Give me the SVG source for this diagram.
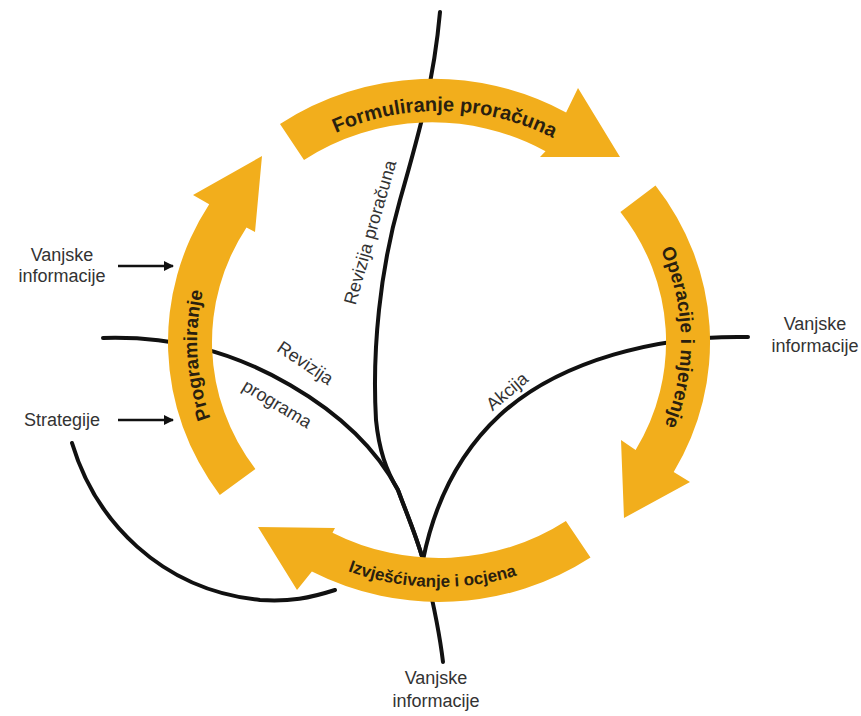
<svg xmlns="http://www.w3.org/2000/svg" width="861" height="716" viewBox="0 0 861 716">
<style>
.ln{fill:none;stroke:#111;stroke-width:4;stroke-linecap:round}
.band{fill:#F2AE1C}
.bl{font-family:"Liberation Sans",Arial,sans-serif;font-weight:bold;fill:#2a1f0f}
.lb{font-family:"Liberation Sans",Arial,sans-serif;font-size:18px;fill:#333}
.ar{stroke:#111;stroke-width:2.5;fill:none}
</style>
<defs>
<marker id="ah" viewBox="0 0 10 10" refX="9" refY="5" markerWidth="4" markerHeight="4" orient="auto" markerUnits="strokeWidth">
<path d="M0,0 L10,5 L0,10 Z" fill="#111"/>
</marker>
<path id="tpTop" d="M 229.4 226.5 A 242 231 0 0 1 648.6 226.5"/>
<path id="tpRight" d="M 560 142 A 242 231 0 0 1 560 542"/>
<path id="tpBottom" d="M 217.3 464.5 A 256 245 0 0 0 660.7 464.5"/>
<path id="tpLeft" d="M 318 542 A 242 231 0 0 1 318 142"/>
</defs>

<g id="connectors">
<path class="ln" d="M 440 12 C 434 80, 420 130, 400 200 C 380 270, 372 350, 376 420 C 379 450, 386 470, 398 490 C 406 512, 416 535, 423 560"/>
<path class="ln" d="M 103 338 C 170 336, 230 350, 290 385 C 340 414, 376 448, 398 490 C 406 512, 416 535, 423 560"/>
<path class="ln" d="M 748 337 C 660 335, 560 360, 500 415 C 460 452, 435 500, 423 560"/>
<path class="ln" d="M 423 560 C 430 590, 438 620, 443 662"/>
<path class="ln" d="M 72 443 C 95 520, 160 590, 260 600 C 290 602, 310 598, 335 590"/>
<line class="ar" x1="118" y1="266" x2="173" y2="266" marker-end="url(#ah)"/>
<line class="ar" x1="118" y1="420" x2="173" y2="420" marker-end="url(#ah)"/>
</g>

<g id="formuliranje">
<path class="band" d="M 280 124 A 271 260 0 0 1 566.1 112.4 L 578 88 L 620 157 L 540 157 L 545.5 151.3 A 227 216 0 0 0 304 160 Z"/>
<text class="bl" font-size="20"><textPath href="#tpTop" startOffset="51.2%" text-anchor="middle">Formuliranje proračuna</textPath></text>
</g>

<g id="operacije">
<path class="band" d="M 655.5 185.5 A 271 260 0 0 1 673.7 472 L 690 482 L 624 518 L 621 440 L 635.6 450 A 227 216 0 0 0 620.4 212 Z"/>
<text class="bl" font-size="19"><textPath href="#tpRight" startOffset="49%" text-anchor="middle">Operacije i mjerenje</textPath></text>
</g>

<g id="izvjescivanje">
<path class="band" d="M 590.5 557.5 A 271 260 0 0 1 311.9 571.6 L 297 590 L 258 527 L 335 528 L 332.5 532.7 A 227 216 0 0 0 565.9 521 Z"/>
<text class="bl" font-size="17"><textPath href="#tpBottom" startOffset="48.7%" text-anchor="middle">Izvješćivanje i ocjena</textPath></text>
</g>

<g id="programiranje">
<path class="band" d="M 219.8 494.9 A 271 260 0 0 1 209.2 204.2 L 193 195 L 262 156 L 255 232 L 246.5 227.5 A 227 216 0 0 0 255.4 469 Z"/>
<text class="bl" font-size="19"><textPath href="#tpLeft" startOffset="47.3%" text-anchor="middle">Programiranje</textPath></text>
</g>

<g id="labels">
<text class="lb" text-anchor="middle" x="62" y="261">Vanjske</text>
<text class="lb" text-anchor="middle" x="62" y="282">informacije</text>
<text class="lb" text-anchor="middle" x="62" y="426">Strategije</text>
<text class="lb" text-anchor="middle" x="815" y="330">Vanjske</text>
<text class="lb" text-anchor="middle" x="815" y="352">informacije</text>
<text class="lb" text-anchor="middle" x="436" y="684">Vanjske</text>
<text class="lb" text-anchor="middle" x="436" y="707">informacije</text>
<text class="lb" text-anchor="middle" transform="translate(376,234) rotate(-74)">Revizija proračuna</text>
<text class="lb" text-anchor="middle" transform="translate(302,368) rotate(34)">Revizija</text>
<text class="lb" text-anchor="middle" transform="translate(274,409) rotate(31)">programa</text>
<text class="lb" text-anchor="middle" transform="translate(511,396) rotate(-40)">Akcija</text>
</g>
</svg>
